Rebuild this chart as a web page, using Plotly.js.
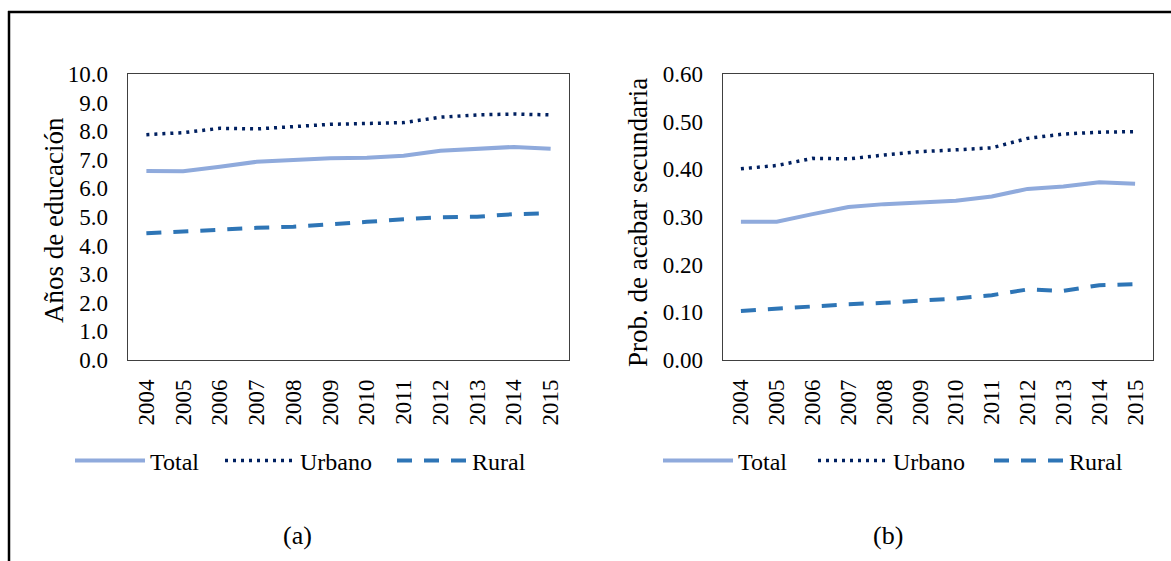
<!DOCTYPE html>
<html>
<head>
<meta charset="utf-8">
<script src="https://cdn.plot.ly/plotly-3.0.1.min.js"></script>
<style>
  html, body { margin: 0; padding: 0; background: #ffffff; }
  #chart { width: 1171px; height: 561px; }
</style>
</head>
<body>
<div id="chart"></div>
<script>
// Years on the horizontal axis of both panels
const years = ['2004', '2005', '2006', '2007', '2008', '2009', '2010', '2011', '2012', '2013', '2014', '2015'];

// Panel (a): average years of schooling
const eduTotal  = [6.61, 6.60, 6.76, 6.93, 6.99, 7.05, 7.07, 7.14, 7.32, 7.40, 7.45, 7.39];
const eduUrbano = [7.88, 7.95, 8.10, 8.08, 8.16, 8.24, 8.27, 8.30, 8.49, 8.57, 8.60, 8.57];
const eduRural  = [4.43, 4.50, 4.58, 4.62, 4.66, 4.76, 4.83, 4.92, 4.99, 5.01, 5.10, 5.13];

// Panel (b): probability of finishing secondary school
const secTotal  = [0.290, 0.290, 0.306, 0.321, 0.327, 0.331, 0.334, 0.343, 0.359, 0.364, 0.373, 0.370];
const secUrbano = [0.401, 0.408, 0.423, 0.422, 0.430, 0.437, 0.441, 0.445, 0.465, 0.474, 0.478, 0.479];
const secRural  = [0.103, 0.108, 0.113, 0.117, 0.120, 0.124, 0.129, 0.136, 0.148, 0.145, 0.157, 0.159];

const seriesNames = ['Total', 'Urbano', 'Rural'];
const yTitleA = 'Años de educación';
const yTitleB = 'Prob. de acabar secundaria';
const panelLabels = ['(a)', '(b)'];

const W = 1171, H = 561;
const fx = p => p / W;
const fy = p => 1 - p / H;

const FONT = 'Liberation Serif';

const styles = [
  { color: '#8FAADC', width: 4,   dash: 'solid' },
  { color: '#002060', width: 3.5, dash: '3px,5px' },
  { color: '#2E75B6', width: 4,   dash: '15px,12px' }
];

// one legend box per entry, so each key sits where it belongs under its panel
const legendLeftA = [70, 220, 392];
const legendLeftB = [658, 813, 989];

function makeTraces(seriesList, xa, ya, legendIds) {
  return seriesList.map((vals, i) => ({
    type: 'scatter',
    mode: 'lines',
    x: years,
    y: vals,
    name: seriesNames[i],
    xaxis: xa,
    yaxis: ya,
    legend: legendIds[i],
    line: { color: styles[i].color, width: styles[i].width, dash: styles[i].dash },
    hoverinfo: 'skip'
  }));
}

const idsA = ['legend', 'legend2', 'legend3'];
const idsB = ['legend4', 'legend5', 'legend6'];

const data = [
  ...makeTraces([eduTotal, eduUrbano, eduRural], 'x', 'y', idsA),
  ...makeTraces([secTotal, secUrbano, secRural], 'x2', 'y2', idsB)
];

const tickFont = { family: FONT, size: 23, color: '#000000' };

const xBase = {
  type: 'category',
  range: [-0.5, 11.5],
  showline: true, mirror: true, linecolor: '#404040', linewidth: 1.3,
  ticks: '', tickangle: -90, tickfont: tickFont,
  ticklabelstandoff: 9,
  showgrid: false, zeroline: false, fixedrange: true
};
const yBase = {
  showline: true, mirror: true, linecolor: '#404040', linewidth: 1.3,
  ticks: '', tickfont: tickFont,
  ticklabelstandoff: 14,
  showgrid: false, zeroline: false, fixedrange: true,
  domain: [fy(360), fy(74)]
};

const legendBase = {
  orientation: 'h',
  yanchor: 'middle',
  y: fy(461),
  xanchor: 'left',
  font: { family: FONT, size: 24, color: '#000000' },
  bgcolor: 'rgba(0,0,0,0)',
  itemwidth: 70,
  itemclick: false, itemdoubleclick: false
};

const layout = {
  width: W, height: H,
  margin: { l: 0, r: 0, t: 0, b: 0 },
  paper_bgcolor: '#ffffff',
  plot_bgcolor: '#ffffff',
  font: { family: FONT, color: '#000000' },
  showlegend: true,
  xaxis:  Object.assign({}, xBase, { domain: [fx(128), fx(569)], anchor: 'y' }),
  yaxis:  Object.assign({}, yBase, { range: [0, 10], tick0: 0, dtick: 1, tickformat: '.1f', anchor: 'x' }),
  xaxis2: Object.assign({}, xBase, { domain: [fx(723), fx(1153)], anchor: 'y2' }),
  yaxis2: Object.assign({}, yBase, { range: [0, 0.6], tick0: 0, dtick: 0.1, tickformat: '.2f', anchor: 'x2' }),
  annotations: [
    { text: yTitleA, xref: 'paper', yref: 'paper', x: fx(54), y: fy(220), textangle: -90,
      showarrow: false, xanchor: 'center', yanchor: 'middle', font: { family: FONT, size: 27, color: '#000' } },
    { text: yTitleB, xref: 'paper', yref: 'paper', x: fx(638), y: fy(223), textangle: -90,
      showarrow: false, xanchor: 'center', yanchor: 'middle', font: { family: FONT, size: 27, color: '#000' } },
    { text: panelLabels[0], xref: 'paper', yref: 'paper', x: fx(297), y: fy(535),
      showarrow: false, xanchor: 'center', yanchor: 'middle', font: { family: FONT, size: 26, color: '#000' } },
    { text: panelLabels[1], xref: 'paper', yref: 'paper', x: fx(888), y: fy(535),
      showarrow: false, xanchor: 'center', yanchor: 'middle', font: { family: FONT, size: 26, color: '#000' } }
  ],
  shapes: [
    // outer frame: top and left edges
    { type: 'line', xref: 'paper', yref: 'paper', x0: fx(8), x1: 1, y0: fy(12), y1: fy(12),
      line: { color: '#000000', width: 2.5 } },
    { type: 'line', xref: 'paper', yref: 'paper', x0: fx(9), x1: fx(9), y0: fy(11), y1: 0,
      line: { color: '#000000', width: 2.5 } }
  ]
};

idsA.forEach((id, i) => { layout[id] = Object.assign({}, legendBase, { x: fx(legendLeftA[i]) }); });
idsB.forEach((id, i) => { layout[id] = Object.assign({}, legendBase, { x: fx(legendLeftB[i]) }); });

Plotly.newPlot('chart', data, layout, { displayModeBar: false, staticPlot: true });
</script>
</body>
</html>
